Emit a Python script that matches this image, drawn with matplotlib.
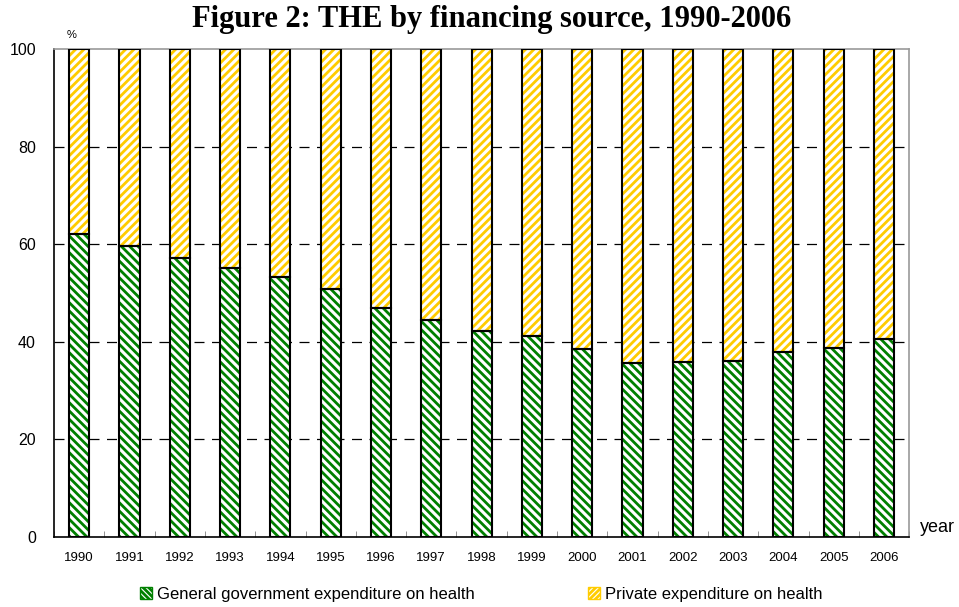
import numpy as np
import matplotlib
matplotlib.use("Agg")
import matplotlib.pyplot as plt
from matplotlib.patches import Patch

years = ["1990", "1991", "1992", "1993", "1994", "1995", "1996", "1997", "1998",
         "1999", "2000", "2001", "2002", "2003", "2004", "2005", "2006"]
gobierno = [62.2, 59.7, 57.2, 55.1, 53.4, 50.8, 46.9, 44.5, 42.2,
            41.2, 38.5, 35.7, 35.9, 36.1, 37.9, 38.7, 40.6]
privado = [100 - g for g in gobierno]
etiquetas = ["General government expenditure on health", "Private expenditure on health"]

verde = "#008000"
amarillo = "#FFCC00"

plt.rcParams['hatch.linewidth'] = 2.0
plt.rcParams['font.family'] = ['Liberation Sans', 'DejaVu Sans']

fig = plt.figure(figsize=(9.59, 6.07), dpi=100)
ax = fig.add_axes([0.0563, 0.1153, 0.8917, 0.8037])

x = np.arange(len(years))
ancho = 0.4

# relleno rayado y luego el borde negro encima
ax.bar(x, gobierno, ancho, color="white", edgecolor=verde, hatch="\\" * 4, linewidth=0, zorder=3)
ax.bar(x, privado, ancho, bottom=gobierno, color="white", edgecolor=amarillo, hatch="/" * 4, linewidth=0, zorder=3)
ax.bar(x, gobierno, ancho, fill=False, edgecolor="black", linewidth=1.5, zorder=4)
ax.bar(x, privado, ancho, bottom=gobierno, fill=False, edgecolor="black", linewidth=1.5, zorder=4)

ax.set_xlim(-0.5, len(years) - 0.5)
ax.set_ylim(0, 100)
ax.set_yticks([0, 20, 40, 60, 80, 100])
ax.tick_params(axis="y", length=0, labelsize=11.5, pad=13)
ax.set_xticks(x)
ax.set_xticklabels(years)
ax.tick_params(axis="x", length=0, labelsize=9.5, pad=11)
ax.set_xticks(np.arange(len(years) + 1) - 0.5, minor=True)
ax.tick_params(axis="x", which="minor", direction="in", length=4, color="gray")

for yv in [20, 40, 60, 80]:
    ax.axhline(yv, color="black", linestyle=(0, (8, 6)), linewidth=0.9, zorder=1)

ax.spines["left"].set_color("black")
ax.spines["bottom"].set_color("black")
ax.spines["top"].set_color("#999999")
ax.spines["right"].set_color("#999999")
for s in ax.spines.values():
    s.set_linewidth(1.2)

fig.text(72 / 959, 1 - 35 / 607, "%", fontsize=8, ha="center", va="center")
fig.text(937 / 959, 1 - 527 / 607, "year", fontsize=13, ha="center", va="center")

fig.text(0.513, 1 - 20 / 607, "Figure 2: THE by financing source, 1990-2006",
         ha="center", va="center", fontsize=22, fontweight="bold", family="Liberation Serif")

handles = [Patch(facecolor="white", edgecolor=verde, hatch="\\" * 6),
           Patch(facecolor="white", edgecolor=amarillo, hatch="/" * 6)]
leg = fig.legend(handles, etiquetas, loc="center", bbox_to_anchor=(0.502, 1 - 594 / 607), ncol=2,
                 frameon=False, fontsize=12, handlelength=0.7, handleheight=0.7,
                 handletextpad=0.3, columnspacing=6.8)
for p in leg.get_patches():
    p.set_linewidth(1.0)

plt.savefig("out.png", dpi=100)
